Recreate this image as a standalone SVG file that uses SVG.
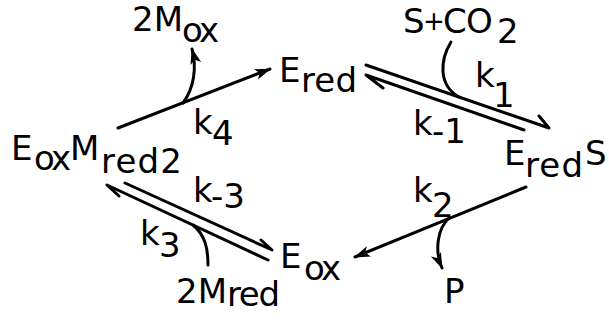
<svg xmlns="http://www.w3.org/2000/svg" width="609" height="320" viewBox="0 0 609 320">
<style>
text{font-family:"DejaVu Sans","Liberation Sans",sans-serif;font-size:34px;fill:#000}
.ln{fill:none;stroke:#000;stroke-width:3;stroke-linecap:round;stroke-linejoin:round}
</style>
<defs>
<marker id="ah" markerUnits="userSpaceOnUse" markerWidth="20" markerHeight="14" viewBox="-17 -7 20 14" refX="0" refY="0" orient="auto" overflow="visible">
<path d="M1,0 L-15,-5.5 L-11,0 L-15,5.5 Z" fill="#000"/>
</marker>
</defs>
<rect width="609" height="320" fill="#fff"/>
<g id="connectors">
<path class="ln" d="M118,128 L270,69" marker-end="url(#ah)"/>
<path class="ln" d="M183,103 C194,88 197,68 192,49" marker-end="url(#ah)"/>
<path class="ln" d="M366,65 L549,128 L539,116"/>
<path class="ln" d="M524,130 L366,75 L383,88"/>
<path class="ln" d="M451,42 C440,60 438,85 459,97"/>
<path class="ln" d="M526,187 L355,257" marker-end="url(#ah)"/>
<path class="ln" d="M449,218 C438,228 434,250 442,268" marker-end="url(#ah)"/>
<path class="ln" d="M125,183 L272,250 L261,240"/>
<path class="ln" d="M268,260 L107,185 L119,196"/>
<path class="ln" d="M208,265 C208,248 205,235 193,225"/>
</g>
<g id="rate-labels">
<text x="193" y="134">k<tspan x="212" y="145">4</tspan></text>
<text x="475" y="87">k<tspan x="493" y="107">1</tspan></text>
<text x="413" y="135">k<tspan x="432" y="143">-1</tspan></text>
<text x="413" y="202">k<tspan x="432" y="217">2</tspan></text>
<text x="193" y="202">k<tspan x="211" y="208">-3</tspan></text>
<text x="140" y="245">k<tspan x="159" y="257">3</tspan></text>
</g>
<g id="node-Ered"><text x="279" y="82">E<tspan x="301" y="92" textLength="56">red</tspan></text></g>
<g id="node-EredS"><text x="504" y="165">E<tspan x="525" y="177" textLength="58">red</tspan><tspan x="585" y="165">S</tspan></text></g>
<g id="node-Eox"><text x="280" y="268">E<tspan x="304" y="280" textLength="37">ox</tspan></text></g>
<g id="node-EoxMred2"><text x="11" y="160">E<tspan x="34" y="170" textLength="37">ox</tspan><tspan x="70" y="160">M</tspan><tspan x="101" y="173" textLength="81">red2</tspan></text></g>
<g id="species-2Mox"><text x="132" y="31">2M<tspan x="182" y="42" textLength="37">ox</tspan></text></g>
<g id="species-SCO2"><text x="403" y="33">S<tspan x="423" y="30" font-size="26">+</tspan><tspan x="443" y="33">C</tspan><tspan x="466" y="33">O</tspan><tspan x="497" y="43">2</tspan></text></g>
<g id="species-P"><text x="444" y="303">P</text></g>
<g id="species-2Mred"><text x="176" y="303">2M<tspan x="227" y="306" textLength="53">red</tspan></text></g>
</svg>
